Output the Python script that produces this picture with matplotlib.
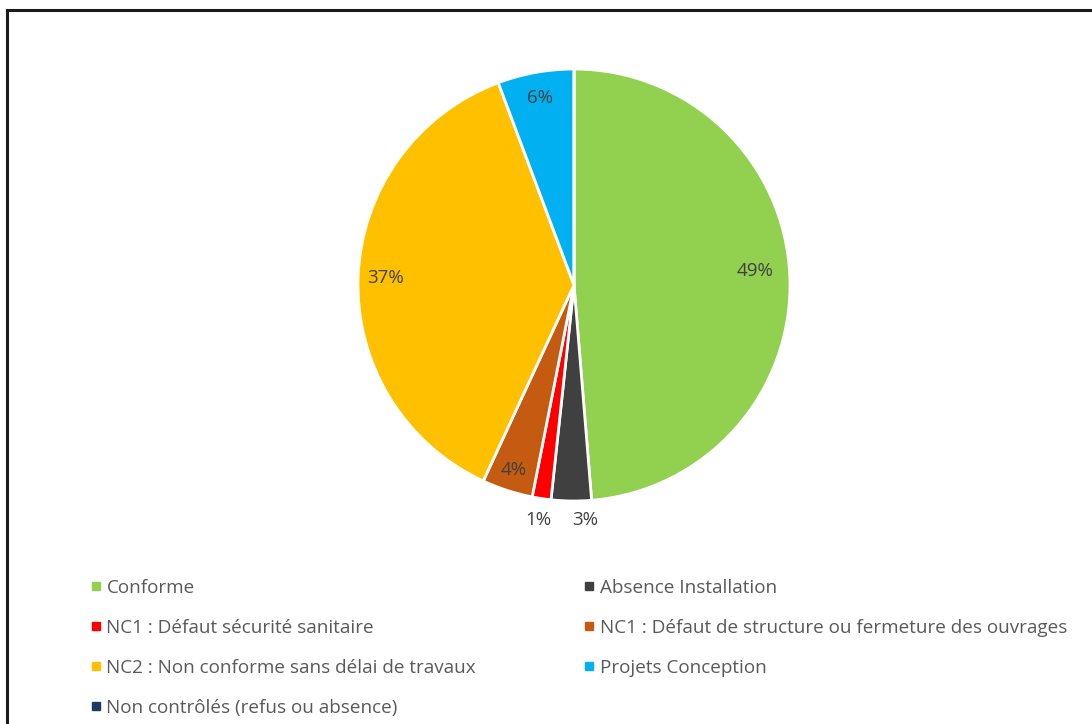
import numpy as np
import matplotlib.pyplot as plt
from matplotlib.patches import Rectangle
from matplotlib.lines import Line2D

plt.rcParams['font.family'] = ['Open Sans', 'DejaVu Sans']

# data
categories = ['Conforme', 'Absence Installation', 'NC1 : Défaut sécurité sanitaire',
              'NC1 : Défaut de structure ou fermeture des ouvrages',
              'NC2 : Non conforme sans délai de travaux', 'Projets Conception',
              'Non contrôlés (refus ou absence)']
values = [48.7, 3.0, 1.4, 3.8, 37.4, 5.7, 0]
colors = ['#92D050', '#404040', '#FF0000', '#C55A11', '#FFC000', '#00B0F0', '#1F3864']
label_dist = [0.84, 1.09, 1.10, 0.90, 0.875, 0.88, 1.1]
label_turn = [2, 3.5, 0, 0, 0, 0, 0]  # small nudge in degrees

fig = plt.figure(figsize=(10.92, 7.24), dpi=100)

# chart frame (cut off at right/bottom like the screenshot)
fig.patches.append(Rectangle((7/1092, -0.1), 2, (724-10)/724 + 0.1,
                             transform=fig.transFigure, fill=False,
                             edgecolor='#1a1a1a', lw=2.2))

cx, cy, r = 574, 724-285, 216
ax = fig.add_axes([(cx-r)/1092, (cy-r)/724, 2*r/1092, 2*r/724])
wedges, _ = ax.pie(values, colors=colors, startangle=90, counterclock=False,
                   wedgeprops=dict(edgecolor='white', linewidth=2))
ax.set_xlim(-1, 1)
ax.set_ylim(-1, 1)
ax.set_aspect('equal')

total = sum(values)
for w, v, d, t in zip(wedges, values, label_dist, label_turn):
    if v == 0:
        continue
    ang = np.deg2rad((w.theta1 + w.theta2) / 2 + t)
    ax.text(d*np.cos(ang), d*np.sin(ang), f'{v/total*100:.0f}%',
            ha='center', va='center', fontsize=13.5, color='#404040')

def handle(c):
    return Line2D([], [], marker='s', linestyle='none', markersize=6,
                  markerfacecolor=c, markeredgecolor=c)

left = [0, 2, 4, 6]
right = [1, 3, 5]
common = dict(frameon=False, fontsize=13.6, labelcolor='#595959',
              handletextpad=0.2, labelspacing=1.17, borderaxespad=0,
              handlelength=0.75, loc='upper left')
fig.legend([handle(colors[i]) for i in left], [categories[i] for i in left],
           bbox_to_anchor=(81/1092, 1-571/724), **common)
fig.legend([handle(colors[i]) for i in right], [categories[i] for i in right],
           bbox_to_anchor=(574/1092, 1-571/724), **common)

fig.savefig('out.png', dpi=100)
